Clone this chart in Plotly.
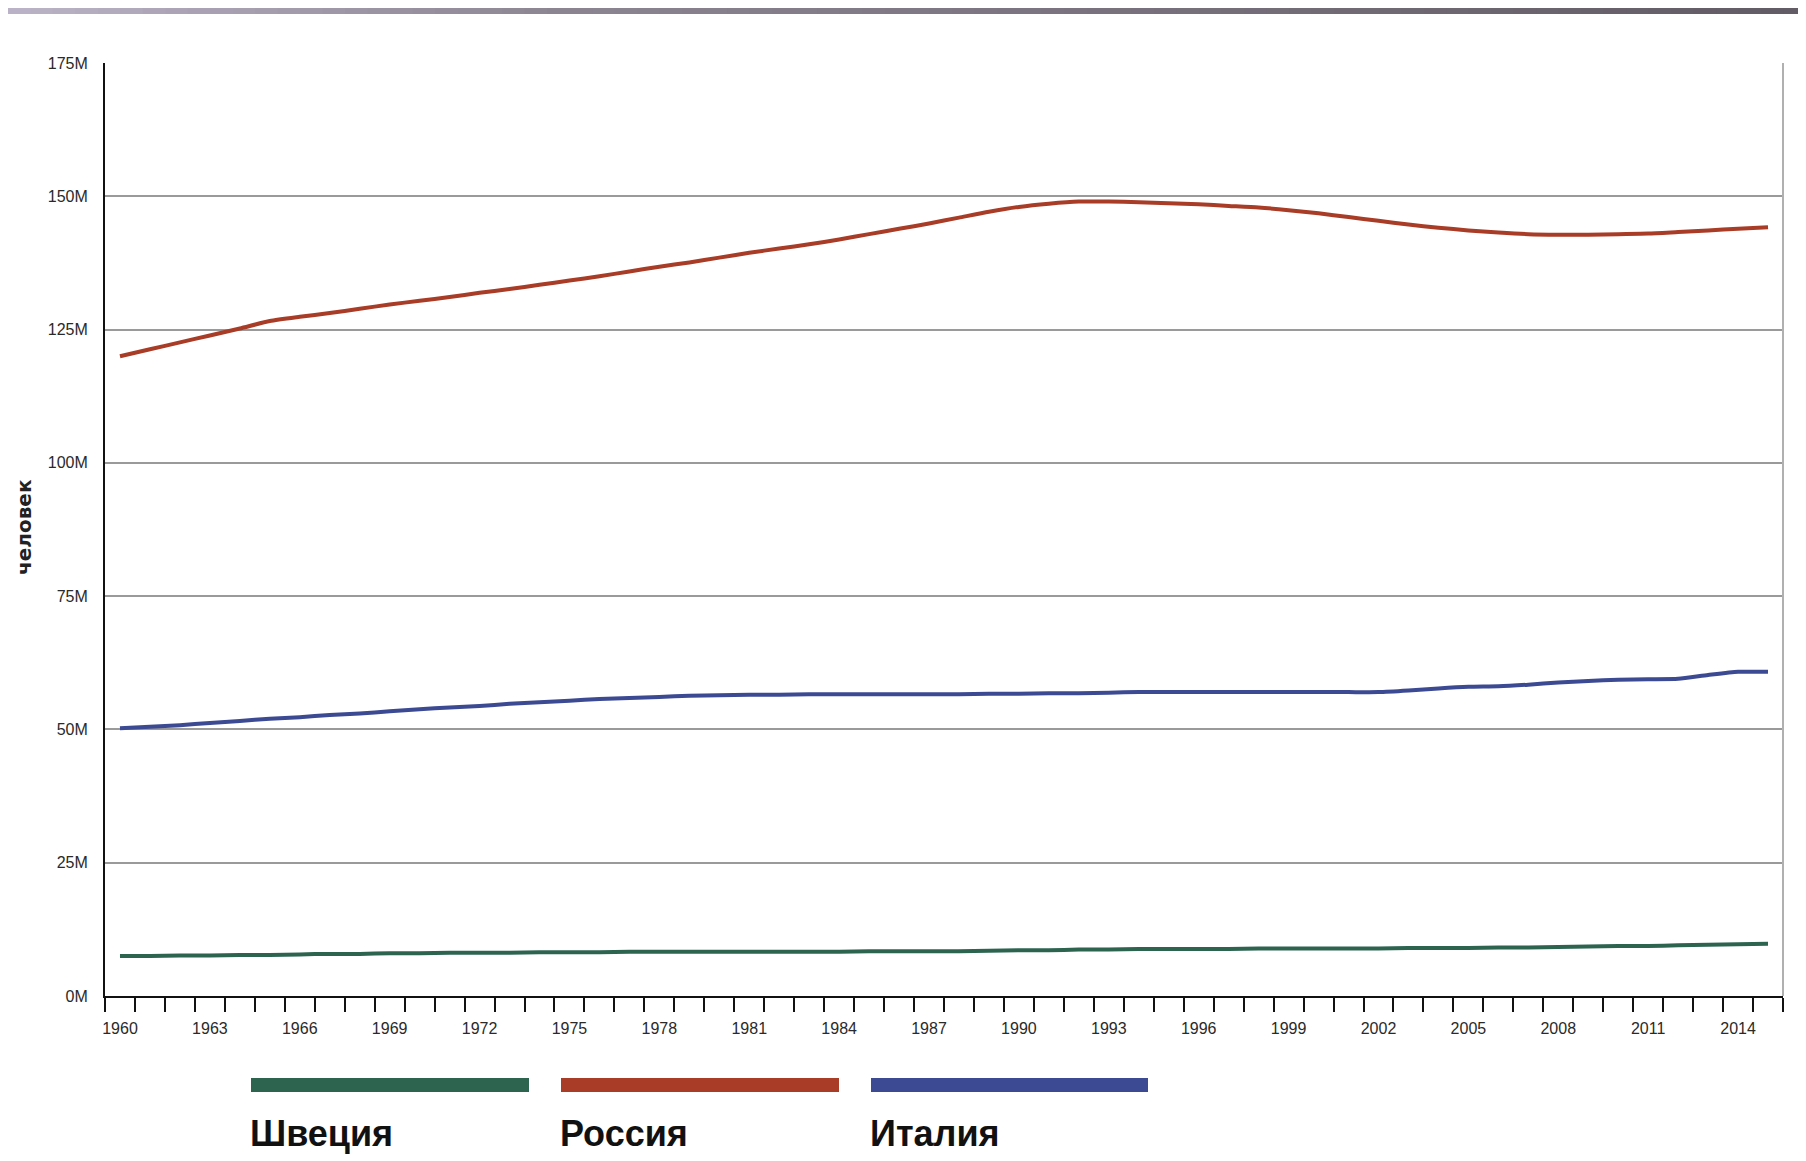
import plotly.graph_objects as go

years = list(range(1960, 2016))

russia = [120.0, 121.3, 122.6, 123.9, 125.2, 126.6, 127.4, 128.1, 128.9, 129.7,
          130.4, 131.1, 131.9, 132.6, 133.4, 134.2, 135.0, 135.9, 136.8, 137.6,
          138.5, 139.4, 140.2, 141.0, 141.9, 142.9, 143.9, 144.9, 146.0, 147.1,
          148.0, 148.6, 149.0, 149.0, 148.9, 148.7, 148.5, 148.2, 147.9, 147.4,
          146.8, 146.1, 145.4, 144.7, 144.1, 143.6, 143.2, 142.9, 142.8, 142.8,
          142.9, 143.0, 143.3, 143.6, 143.9, 144.2]

italy = [50.2, 50.5, 50.8, 51.2, 51.6, 52.0, 52.3, 52.7, 53.0, 53.4,
         53.8, 54.1, 54.4, 54.8, 55.1, 55.4, 55.7, 55.9, 56.1, 56.3,
         56.4, 56.5, 56.5, 56.6, 56.6, 56.6, 56.6, 56.6, 56.6, 56.7,
         56.7, 56.8, 56.8, 56.9, 57.0, 57.0, 57.0, 57.0, 57.0, 57.0,
         57.0, 57.0, 57.0, 57.3, 57.7, 58.0, 58.1, 58.4, 58.8, 59.1,
         59.3, 59.4, 59.5, 60.2, 60.8, 60.8]

sweden = [7.5, 7.5, 7.6, 7.6, 7.7, 7.7, 7.8, 7.9, 7.9, 8.0,
          8.0, 8.1, 8.1, 8.1, 8.2, 8.2, 8.2, 8.3, 8.3, 8.3,
          8.3, 8.3, 8.3, 8.3, 8.3, 8.4, 8.4, 8.4, 8.4, 8.5,
          8.6, 8.6, 8.7, 8.7, 8.8, 8.8, 8.8, 8.8, 8.9, 8.9,
          8.9, 8.9, 8.9, 9.0, 9.0, 9.0, 9.1, 9.1, 9.2, 9.3,
          9.4, 9.4, 9.5, 9.6, 9.7, 9.8]

series_names = ["Швеция", "Россия", "Италия"]
series_values = [sweden, russia, italy]
series_colors = ["#2c6450", "#a83c26", "#3b4a92"]

y_tick_vals = [0, 25, 50, 75, 100, 125, 150, 175]
y_tick_text = ["0M", "25M", "50M", "75M", "100M", "125M", "150M", "175M"]
x_tick_vals = list(range(1960, 2016, 3))
x_tick_text = [str(y) for y in x_tick_vals]
y_title = "человек"

# page offset introduced by the default body margin
OFF = 8
PAGE_W, PAGE_H = 1806, 1161
W, H = PAGE_W - OFF, PAGE_H - OFF
PL, PR, PT, PB = 105, 1783, 63, 996  # plot area in page pixels
L, T = PL - OFF, PT - OFF
R = W - (PR - OFF)
B = H - (PB - OFF)
pw, ph = PR - PL, PB - PT


def px(xp):
    return (xp - PL) / pw


def py(yp):
    return (PB - yp) / ph


fig = go.Figure()
for name, vals, col in zip(series_names, series_values, series_colors):
    fig.add_trace(go.Scatter(x=years, y=vals, mode="lines", name=name,
                             line=dict(color=col, width=4, shape="spline", smoothing=0.6),
                             showlegend=False))

tick_font = dict(family="Liberation Sans, Arial", size=16, color="#2a2a2a")

fig.update_xaxes(range=[1959.5, 2015.5], tickmode="array", tickvals=x_tick_vals, ticktext=x_tick_text,
                 ticks="", showgrid=False, zeroline=False, showline=True, linecolor="#111", linewidth=2,
                 tickfont=tick_font, ticklabelstandoff=17,
                 minor=dict(ticks="outside", tick0=1959.5, dtick=1, ticklen=14, tickwidth=2,
                            tickcolor="#111", showgrid=False))
fig.update_yaxes(range=[0, 175], tickmode="array", tickvals=y_tick_vals, ticktext=y_tick_text,
                 ticks="", showgrid=True, gridcolor="#9a9a9a", gridwidth=2, zeroline=False,
                 showline=True, linecolor="#111", linewidth=2, tickfont=tick_font,
                 ticklabelstandoff=12)

shapes = []
# right border
shapes.append(dict(type="line", xref="paper", yref="paper", x0=1, x1=1, y0=0, y1=1,
                   line=dict(color="#b0b0b0", width=2)))
# top gradient strip
n = 80
c0 = (186, 178, 198)
c1 = (140, 133, 146)
c2 = (98, 92, 102)
for i in range(n):
    t = i / (n - 1)
    if t < 0.3:
        a, b, f = c0, c1, t / 0.3
    else:
        a, b, f = c1, c2, (t - 0.3) / 0.7
    col = "rgb(%d,%d,%d)" % tuple(int(a[k] + (b[k] - a[k]) * f) for k in range(3))
    x0 = OFF + i * W / n
    x1 = OFF + (i + 1) * W / n + 1
    shapes.append(dict(type="rect", xref="paper", yref="paper",
                       x0=px(x0), x1=px(x1), y0=py(OFF + 6), y1=py(OFF),
                       fillcolor=col, line=dict(width=0), layer="above"))

# legend bars
bar_x = [(251, 529), (561, 839), (871, 1148)]
for (x0, x1), col in zip(bar_x, series_colors):
    shapes.append(dict(type="rect", xref="paper", yref="paper",
                       x0=px(x0), x1=px(x1), y0=py(1092), y1=py(1078),
                       fillcolor=col, line=dict(width=0)))

annotations = []
for (x0, x1), name in zip(bar_x, series_names):
    annotations.append(dict(text="<b>" + name + "</b>", xref="paper", yref="paper", x=px(x0 - 3), y=py(1133),
                            xanchor="left", yanchor="middle", showarrow=False,
                            font=dict(family="Liberation Sans, Arial", size=36, color="#111")))
annotations.append(dict(text="<b>" + y_title + "</b>", xref="paper", yref="paper", x=px(24), y=py(527),
                        xanchor="center", yanchor="middle", textangle=-90, showarrow=False,
                        font=dict(family="DejaVu Sans", size=20, color="#222")))

fig.update_layout(width=W, height=H, margin=dict(l=L, r=R, t=T, b=B, autoexpand=False),
                  paper_bgcolor="white", plot_bgcolor="white",
                  shapes=shapes, annotations=annotations)

fig.write_html("out.html")
